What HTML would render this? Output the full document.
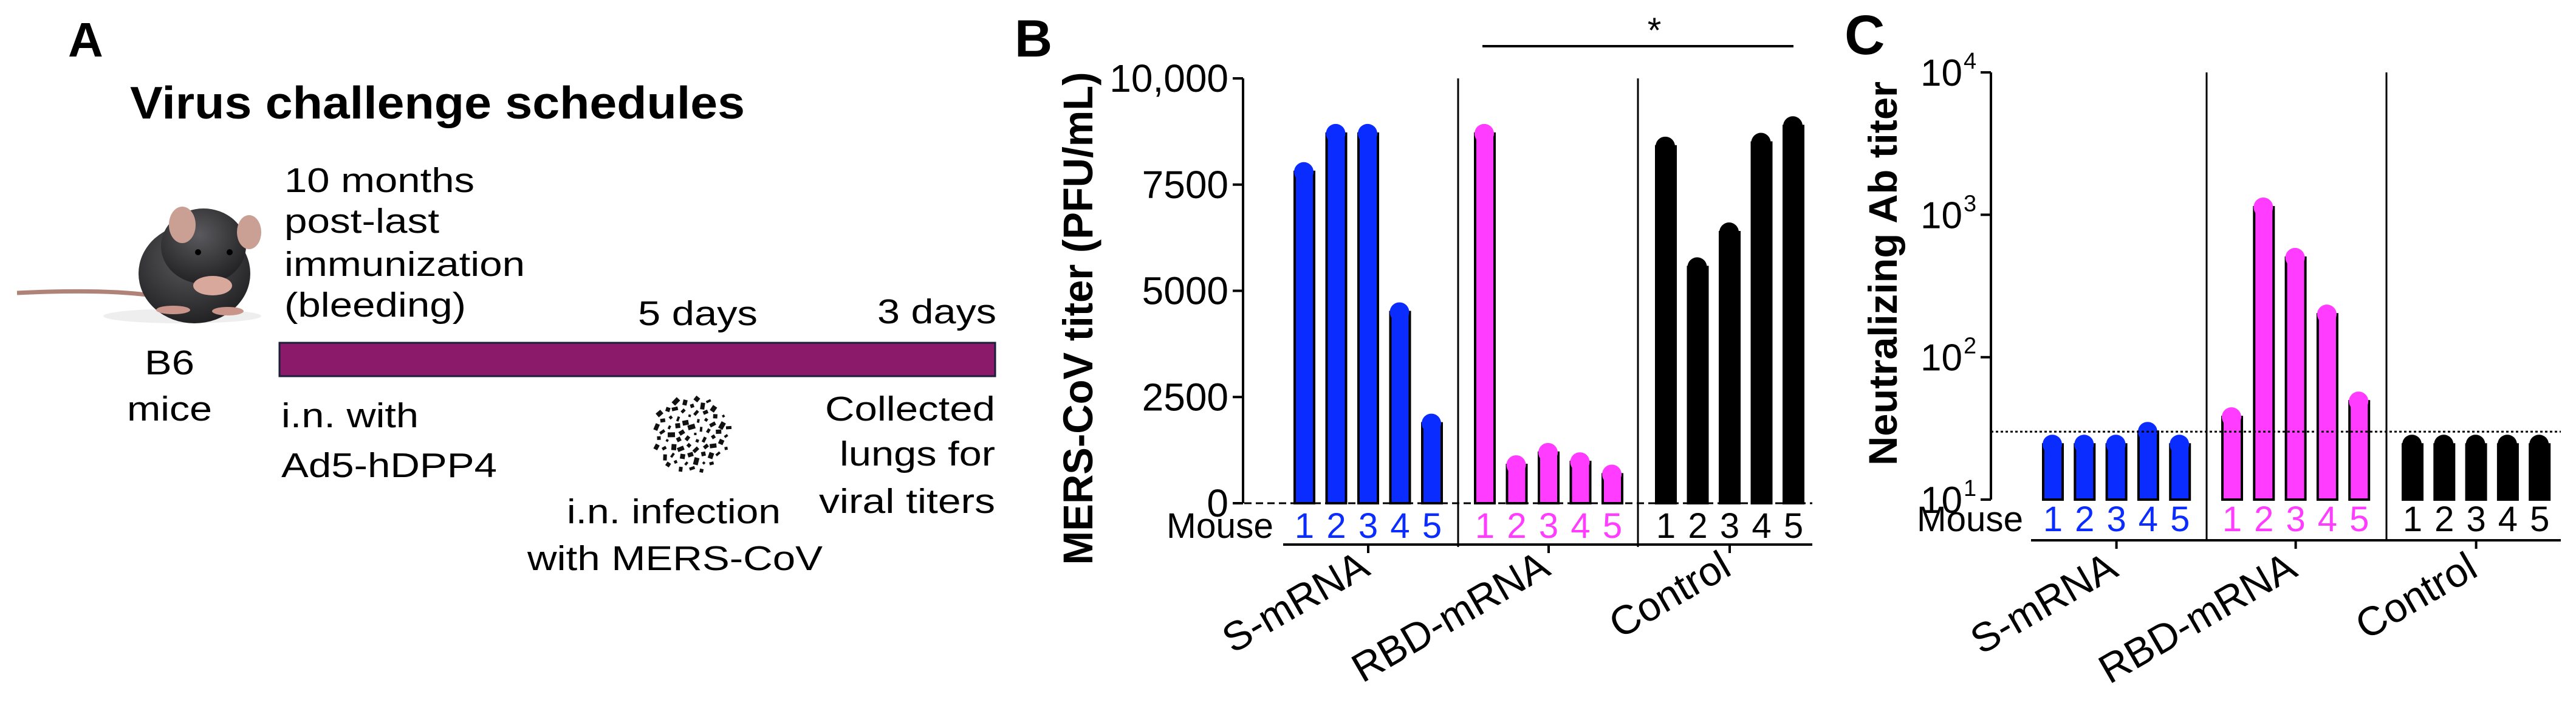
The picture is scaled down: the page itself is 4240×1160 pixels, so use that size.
<!DOCTYPE html>
<html><head><meta charset="utf-8"><style>
html,body{margin:0;padding:0;background:#fff}
svg{display:block;font-family:"Liberation Sans",Arial,sans-serif}
</style></head><body>
<svg id="fig" width="4240" height="1160" viewBox="0 0 4240 1160" xmlns="http://www.w3.org/2000/svg">
<defs>
<radialGradient id="mg" cx="0.45" cy="0.35" r="0.7"><stop offset="0" stop-color="#5a5a5e"/><stop offset="1" stop-color="#1e1e20"/></radialGradient>
</defs>
<g>
<text x="112" y="93" font-size="80" font-weight="bold">A</text>
<text x="214" y="195" font-size="75" font-weight="bold" textLength="1012" lengthAdjust="spacingAndGlyphs">Virus challenge schedules</text>
<g>
<path d="M28 482 C110 478 190 478 250 486" stroke="#b08378" stroke-width="7" fill="none"/>
<ellipse cx="300" cy="520" rx="130" ry="12" fill="#eee"/>
<ellipse cx="320" cy="450" rx="92" ry="82" fill="url(#mg)"/>
<ellipse cx="335" cy="405" rx="70" ry="62" fill="url(#mg)"/>
<ellipse cx="300" cy="370" rx="22" ry="30" fill="#c9a093"/>
<ellipse cx="410" cy="382" rx="20" ry="28" fill="#c9a093"/>
<circle cx="326" cy="415" r="5" fill="#000"/><circle cx="378" cy="415" r="5" fill="#000"/>
<ellipse cx="350" cy="470" rx="32" ry="16" fill="#d8a89d"/>
<ellipse cx="285" cy="510" rx="28" ry="7" fill="#c9948a"/>
<ellipse cx="375" cy="512" rx="26" ry="7" fill="#c9948a"/>
</g>
<text x="238" y="616" font-size="57" textLength="82" lengthAdjust="spacingAndGlyphs">B6</text>
<text x="209" y="692" font-size="57" textLength="140" lengthAdjust="spacingAndGlyphs">mice</text>
<text x="468" y="316" font-size="57" textLength="313" lengthAdjust="spacingAndGlyphs">10 months</text>
<text x="468" y="383" font-size="57" textLength="255" lengthAdjust="spacingAndGlyphs">post-last</text>
<text x="468" y="454" font-size="57" textLength="396" lengthAdjust="spacingAndGlyphs">immunization</text>
<text x="468" y="521" font-size="57" textLength="299" lengthAdjust="spacingAndGlyphs">(bleeding)</text>
<text x="1050" y="535" font-size="57" textLength="197" lengthAdjust="spacingAndGlyphs">5 days</text>
<text x="1444" y="532" font-size="57" textLength="196" lengthAdjust="spacingAndGlyphs">3 days</text>
<rect x="460" y="564" width="1178" height="55" fill="#8b1a6b" stroke="#1a1f3a" stroke-width="3"/>
<text x="463" y="703" font-size="57" textLength="226" lengthAdjust="spacingAndGlyphs">i.n. with</text>
<text x="463" y="785" font-size="57" textLength="355" lengthAdjust="spacingAndGlyphs">Ad5-hDPP4</text>
<g id="virus"></g>
<text x="933" y="861" font-size="57" textLength="352" lengthAdjust="spacingAndGlyphs">i.n. infection</text>
<text x="868" y="938" font-size="57" textLength="486" lengthAdjust="spacingAndGlyphs">with MERS-CoV</text>
<text x="1638" y="692" font-size="57" text-anchor="end" textLength="280" lengthAdjust="spacingAndGlyphs">Collected</text>
<text x="1638" y="766" font-size="57" text-anchor="end" textLength="256" lengthAdjust="spacingAndGlyphs">lungs for</text>
<text x="1638" y="844" font-size="57" text-anchor="end" textLength="290" lengthAdjust="spacingAndGlyphs">viral titers</text>
</g>
<g id="panelB"></g>
<g id="panelC"></g>
</svg>
<script>
// ---- Data ----
const groups = ["S-mRNA", "RBD-mRNA", "Control"];
const mice = ["1", "2", "3", "4", "5"];
const groupColors = ["#0a2cff", "#ff3cff", "#000000"];
const titerS = [7800, 8700, 8700, 4500, 1880];
const titerRBD = [8700, 900, 1190, 970, 680];
const titerControl = [8400, 5560, 6380, 8490, 8880];
const bTicks = [0, 2500, 5000, 7500, 10000];
const bTickLabels = ["0", "2500", "5000", "7500", "10,000"];
const nabS = [24.4, 24.4, 24.4, 30, 24.4];
const nabRBD = [38, 1130, 500, 200, 49];
const nabControl = [24.4, 24.4, 24.4, 24.4, 24.4];
const cTicks = [10, 100, 1000, 10000];
const cTickExp = ["1", "2", "3", "4"];
const detectionLimit = 30;

const NS = "http://www.w3.org/2000/svg";
function mk(parent, tag, attrs, text) {
  const e = document.createElementNS(NS, tag);
  for (const k in attrs) e.setAttribute(k, attrs[k]);
  if (text !== undefined) e.textContent = text;
  parent.appendChild(e);
  return e;
}

// virus icon: irregular blobs filling a disk
(function(){
  const g = document.getElementById('virus');
  const cx = 1139, cy = 714, r = 64;
  const golden = 2.39996;
  for (let k = 0; k < 70; k++) {
    const rr = r * Math.sqrt((k + 0.5) / 70);
    const ang = k * golden;
    const px = cx + rr * Math.cos(ang), py = cy + rr * Math.sin(ang);
    const s = 4 + (k * 7 % 5);
    const d = mk(g, 'rect', {x: px - s / 2, y: py - s / 2, width: s, height: s + (k % 3) * 2, fill: '#111', transform: 'rotate(' + (k * 37 % 90) + ' ' + px + ' ' + py + ')'});
    
    
  }
})();

function drawPanel(root, cfg) {
  const series = cfg.series;
  for (let gi = 0; gi < groups.length; gi++) {
    for (let i = 0; i < mice.length; i++) {
      const v = series[gi][i];
      const cx = cfg.x(gi, i);
      const yt = cfg.y(v);
      const rect = mk(root, 'rect', {x: cx - 16, y: yt, width: 32, height: cfg.base - yt, fill: groupColors[gi], stroke: '#000', 'stroke-width': 4});
      
      
      const dot = mk(root, 'circle', {cx: cx - 1, cy: yt, r: 16, fill: groupColors[gi]});
      
      
      const t = mk(root, 'text', {x: cx, y: cfg.mouseY, 'font-size': 58, 'text-anchor': 'middle', fill: groupColors[gi]}, mice[i]);
      
      
    }
    const gc = cfg.x(gi, 2);
    const tk = mk(root, 'line', {x1: gc, x2: gc, y1: cfg.axisY, y2: cfg.axisY + 14, stroke: '#000', 'stroke-width': 4});
    
    
    const lx = gc + cfg.labDx;
    const lab = mk(root, 'text', {x: lx, y: cfg.labY, 'font-size': 67, 'text-anchor': 'end', transform: 'rotate(-30 ' + lx + ' ' + cfg.labY + ')'}, groups[gi]);
    
    
  }
}

// ---- Panel B ----
(function(){
  const root = document.getElementById('panelB');
  const y0 = 828, y1 = 129;
  const y = v => y0 - (v / 10000) * (y0 - y1);
  const starts = [2147, 2444, 2742];
  const x = (g, i) => starts[g] + i * 52.5;
  let e;
  e = mk(root, 'text', {x: 1670, y: 93, 'font-size': 86, 'font-weight': 'bold'}, 'B');
   
  e = mk(root, 'line', {x1: 2046, x2: 2046, y1: y1, y2: y0, stroke: '#000', 'stroke-width': 4});
   
  bTicks.forEach((t, k) => {
    const ty = y(t);
    e = mk(root, 'line', {x1: 2029, x2: 2046, y1: ty, y2: ty, stroke: '#000', 'stroke-width': 4});
     
    e = mk(root, 'text', {x: 2022, y: ty + 22, 'font-size': 64, 'text-anchor': 'end'}, bTickLabels[k]);
     
  });
  e = mk(root, 'text', {x: 0, y: 0, 'font-size': 69, 'font-weight': 'bold', 'text-anchor': 'middle', textLength: 811, lengthAdjust: 'spacingAndGlyphs', transform: 'translate(1798 524) rotate(-90)'}, 'MERS-CoV titer (PFU/mL)');
   
  [2400, 2696].forEach(dx => {
    e = mk(root, 'line', {x1: dx, x2: dx, y1: y1, y2: 900, stroke: '#000', 'stroke-width': 3});
     
  });
  drawPanel(root, {series: [titerS, titerRBD, titerControl], x, y, base: y0, mouseY: 885, axisY: 896, labY: 944, labDx: 6});
  e = mk(root, 'line', {x1: 2029, x2: 2983, y1: y0, y2: y0, stroke: '#000', 'stroke-width': 3, 'stroke-dasharray': '12 7'});
   
  e = mk(root, 'line', {x1: 2112, x2: 2983, y1: 896, y2: 896, stroke: '#000', 'stroke-width': 4});
   
  e = mk(root, 'text', {x: 1920, y: 885, 'font-size': 58, textLength: 176, lengthAdjust: 'spacingAndGlyphs'}, 'Mouse');
   
  e = mk(root, 'line', {x1: 2440, x2: 2952, y1: 76, y2: 76, stroke: '#000', 'stroke-width': 4});
   
  e = mk(root, 'text', {x: 2723, y: 70, 'font-size': 58, 'text-anchor': 'middle'}, '*');
   
})();

// ---- Panel C ----
(function(){
  const root = document.getElementById('panelC');
  const yb = 822, dec = 234.3;
  const y = v => yb - (Math.log10(v) - 1) * dec;
  const starts = [3379, 3674, 3971];
  const x = (g, i) => starts[g] + i * 52.3;
  let e;
  e = mk(root, 'text', {x: 3036, y: 89, 'font-size': 92, 'font-weight': 'bold'}, 'C');
   
  e = mk(root, 'line', {x1: 3277, x2: 3277, y1: y(10000), y2: yb, stroke: '#000', 'stroke-width': 4});
   
  cTicks.forEach((t, k) => {
    const ty = y(t);
    e = mk(root, 'line', {x1: 3260, x2: 3277, y1: ty, y2: ty, stroke: '#000', 'stroke-width': 4});
     
    e = mk(root, 'text', {x: 3230, y: ty + 22, 'font-size': 62, 'text-anchor': 'end'}, '10');
     
    e = mk(root, 'text', {x: 3232, y: ty - 6, 'font-size': 38}, cTickExp[k]);
     
  });
  e = mk(root, 'text', {x: 0, y: 0, 'font-size': 66, 'font-weight': 'bold', 'text-anchor': 'middle', textLength: 632, lengthAdjust: 'spacingAndGlyphs', transform: 'translate(3122 450) rotate(-90)'}, 'Neutralizing Ab titer');
   
  [3632, 3928].forEach(dx => {
    e = mk(root, 'line', {x1: dx, x2: dx, y1: y(10000), y2: 889, stroke: '#000', 'stroke-width': 3});
     
  });
  drawPanel(root, {series: [nabS, nabRBD, nabControl], x, y, base: yb, mouseY: 874, axisY: 889, labY: 946, labDx: 6});
  e = mk(root, 'line', {x1: 3277, x2: 4215, y1: y(detectionLimit), y2: y(detectionLimit), stroke: '#000', 'stroke-width': 3, 'stroke-dasharray': '4 4'});
   
  e = mk(root, 'line', {x1: 3343, x2: 4215, y1: 889, y2: 889, stroke: '#000', 'stroke-width': 4});
   
  e = mk(root, 'text', {x: 3155, y: 874, 'font-size': 58, textLength: 175, lengthAdjust: 'spacingAndGlyphs'}, 'Mouse');
   
})();
</script>
</body></html>
